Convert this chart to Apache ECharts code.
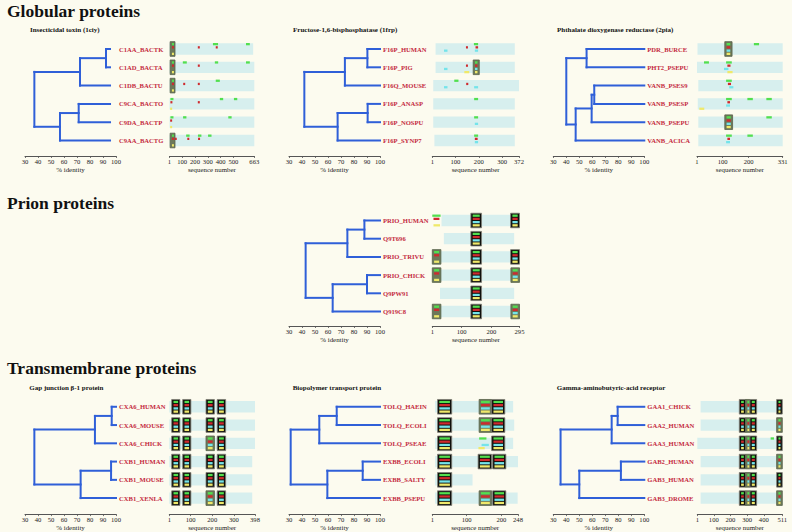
<!DOCTYPE html>
<html><head><meta charset="utf-8">
<script src="https://cdn.jsdelivr.net/npm/echarts@6/dist/echarts.min.js"></script>
<style>html,body{margin:0;padding:0;background:#fcfbef;}#c{width:792px;height:532px;}</style>
</head><body><div id="c"></div>
<script>
// ---------------- DATA ----------------
// node arrays: [identity %, childA, childB]; leaves are 0..5, new nodes numbered 6,7,...
const p1Title = 'Insecticidal toxin (1ciy)';
const p1Labels = ['C1AA_BACTK','C1AD_BACTA','C1DB_BACTU','C9CA_BACTO','C9DA_BACTP','C9AA_BACTG'];
const p1Tree = [[92.3,0,1],[72.3,6,2],[71.3,3,4],[56.9,8,5],[37.2,7,9]];
const p1LeafEnd = 95.4;
const p1Len = 663;
const p1Ticks = [1,100,200,300,400,500,663];
const p1Ranges = [[1,654],[1,663],[1,663],[1,663],[1,663],[1,663]];
const p1Boxes = [[6,44,0,0,'GRY'],[6,44,1,0,'GRY'],[6,44,2,0,'GRY'],[6,44,5,0,'GRY']];
const p1Marks = [
 [340,380,0,0],[222,236,0,1],[362,376,0,1],[598,628,0,0],
 [105,136,1,0],[222,236,1,1],[355,381,1,0],[598,628,1,0],
 [108,120,2,1],[222,236,2,1],[362,394,2,0],
 [8,32,3,0],[8,18,3,1],[6,20,3,3],[222,236,3,1],[394,420,3,0],[504,530,3,0],
 [8,32,4,0],[6,14,4,1],[6,18,4,3],[107,133,4,0],[460,486,4,0],
 [42,52,5,1],[131,158,5,0],[140,152,5,1],[223,250,5,0],[224,236,5,1],[302,329,5,0]
];

const p2Title = 'Fructose-1,6-bisphosphatase (1frp)';
const p2Labels = ['F16P_HUMAN','F16P_PIG','F16Q_MOUSE','F16P_ANASP','F16P_NOSPU','F16P_SYNP7'];
const p2Tree = [[90.3,0,1],[73,6,2],[90.5,3,4],[67.4,8,5],[41.8,7,9]];
const p2LeafEnd = 100;
const p2Len = 372;
const p2Ticks = [1,100,200,300,372];
const p2Ranges = [[15,354],[15,354],[5,372],[5,354],[5,354],[10,354]];
const p2Boxes = [[176,202,1,0,'GRCY']];
const p2Marks = [
 [51,66,0,2],[145,152,0,1],[179,197,0,0],[186,197,0,1],[183,197,0,2],
 [51,66,1,2],[145,152,1,1],[138,159,1,3],
 [95,113,2,0],[146,155,2,1],[51,66,2,2],[180,197,2,2],
 [180,197,3,0],
 [180,197,4,0],[183,197,4,2],
 [180,197,5,0],[183,195,5,1],[183,197,5,2]
];

const p3Title = 'Phthalate dioxygenase reductase (2pia)';
const p3Labels = ['PDR_BURCE','PHT2_PSEPU','VANB_PSES9','VANB_PSESP','VANB_PSEPU','VANB_ACICA'];
const p3Tree = [[55.6,0,1],[61.5,2,3],[59.5,7,4],[47.2,8,5],[40,6,9]];
const p3LeafEnd = 100;
const p3Len = 331;
const p3Ticks = [1,100,200,331];
const p3Ranges = [[3,331],[1,331],[6,331],[4,331],[6,331],[6,331]];
const p3Boxes = [[108,136,0,0,'GRCY'],[108,138,4,0,'GRCY']];
const p3Marks = [
 [220,240,0,0],
 [28,47,1,0],[113,135,1,0],[118,130,1,1],[105,122,1,2],[118,138,1,3],
 [113,135,2,0],[120,132,2,1],[125,141,2,2],
 [113,135,3,0],[195,216,3,0],[268,289,3,0],[118,128,3,1],[113,128,3,2],[10,29,3,3],
 [268,289,4,0],
 [113,135,5,0],[195,216,5,0],[118,128,5,1],[113,128,5,2]
];

const p4Title = '';
const p4Labels = ['PRIO_HUMAN','Q9T696','PRIO_TRIVU','PRIO_CHICK','Q9PW91','Q919C8'];
const p4Tree = [[88,0,1],[74.9,6,2],[90,3,4],[63.6,8,5],[42.8,7,9]];
const p4LeafEnd = 100;
const p4Len = 295;
const p4Ticks = [1,100,200,295];
const p4Ranges = [[32,280],[40,277],[1,294],[1,294],[27,277],[1,294]];
const p4Boxes = [
 [131,167,0,1,'GRCY'],[265,295,0,1,'GRCY'],
 [131,167,1,1,'GRCY'],
 [1,30,2,0,'GRY'],[131,167,2,1,'GRCY'],[265,295,2,1,'GRCY'],
 [1,30,3,0,'GRY'],[131,167,3,1,'GRCY'],[266,295,3,0,'GRCY'],
 [131,167,4,1,'GRCY'],
 [1,30,5,0,'GRY'],[131,167,5,1,'GRCY'],[266,295,5,0,'GRCY']
];
const p4Marks = [[1,29,0,0],[5,25,0,1],[5,27,0,3]];

const p5Title = 'Gap junction \u03b2-1 protein';
const p5Labels = ['CXA6_HUMAN','CXA6_MOUSE','CXA6_CHICK','CXB1_HUMAN','CXB1_MOUSE','CXB1_XENLA'];
const p5Tree = [[96.7,0,1],[83.8,6,2],[96.2,3,4],[72.8,8,5],[37.2,7,9]];
const p5LeafEnd = 100;
const p5Len = 398;
const p5Ticks = [1,100,200,300,398];
const p5Ranges = [[1,398],[1,398],[1,398],[1,385],[1,385],[1,385]];
const p5Boxes = [
 [12,50,0,1,'GRCY'],[63,101,0,1,'GRCY'],[171,210,0,1,'GRCY'],[223,262,0,1,'GRCY'],
 [12,50,1,1,'GRCY'],[63,101,1,1,'GRCY'],[171,210,1,1,'GRCY'],[223,262,1,1,'GRCY'],
 [12,50,2,1,'GRCY'],[63,101,2,1,'GRCY'],[171,210,2,0,'GRCY'],[223,262,2,1,'GRCY'],
 [12,50,3,1,'GRCY'],[63,101,3,1,'GRCY'],[171,210,3,1,'GRCY'],[223,262,3,1,'GRCY'],
 [12,50,4,1,'GRCY'],[63,101,4,1,'GRCY'],[171,210,4,1,'GRCY'],[223,262,4,1,'GRCY'],
 [12,50,5,1,'GRCY'],[63,101,5,1,'GRCY'],[171,210,5,0,'GRCY'],[223,262,5,1,'GRCY']
];
const p5Marks = [];

const p6Title = 'Biopolymer transport protein';
const p6Labels = ['TOLQ_HAEIN','TOLQ_ECOLI','TOLQ_PSEAE','EXBB_ECOLI','EXBB_SALTY','EXBB_PSEPU'];
const p6Tree = [[66.7,0,1],[53.3,6,2],[86.7,3,4],[59.5,8,5],[31.3,7,9]];
const p6LeafEnd = 100;
const p6Len = 248;
const p6Ticks = [1,100,200,248];
const p6Ranges = [[9,234],[9,237],[9,234],[9,248],[9,117],[9,247]];
const p6Boxes = [
 [16,57,0,1,'GRCY'],[136,172,0,0,'GRCY'],[172,210,0,1,'GRCY'],
 [16,57,1,1,'GRCY'],[136,172,1,0,'GRCY'],[172,210,1,1,'GRCY'],
 [16,57,2,1,'GRCY'],[172,210,2,1,'GRCY'],
 [16,57,3,1,'GRCY'],[133,172,3,1,'GRCY'],[175,213,3,1,'GRCY'],
 [16,57,4,1,'GRCY'],
 [16,57,5,1,'GRCY'],[136,172,5,0,'GRCY'],[175,213,5,1,'GRCY']
];
const p6Marks = [[136,157,2,0],[143,164,2,2],[134,152,2,3]];

const p7Title = 'Gamma-aminobutyric-acid receptor';
const p7Labels = ['GAA1_CHICK','GAA2_HUMAN','GAA3_HUMAN','GAB2_HUMAN','GAB3_HUMAN','GAB3_DROME'];
const p7Tree = [[79.5,0,1],[74.9,6,2],[82,3,4],[50,8,5],[35.6,7,9]];
const p7LeafEnd = 100;
const p7Len = 511;
const p7Ticks = [1,100,200,300,400,511];
const p7Ranges = [[21,511],[21,511],[1,511],[21,511],[21,511],[21,511]];
const p7Boxes = [
 [253,291,0,1,'GRCY'],[291,317,0,0,'GRCY'],[317,357,0,1,'GRCY'],[477,511,0,1,'GRCY'],
 [253,291,1,1,'GRCY'],[291,317,1,0,'GRCY'],[317,357,1,1,'GRCY'],[477,511,1,0,'GRCY'],
 [253,291,2,1,'GRCY'],[291,317,2,0,'GRCY'],[317,357,2,1,'GRCY'],[477,511,2,1,'GRCY'],
 [253,291,3,1,'GRCY'],[291,317,3,0,'GRCY'],[317,357,3,1,'GRCY'],[477,511,3,0,'GRCY'],
 [253,291,4,1,'GRCY'],[291,317,4,0,'GRCY'],[317,357,4,1,'GRCY'],[477,511,4,1,'GRCY'],
 [253,291,5,1,'GRCY'],[291,317,5,0,'GRCY'],[317,357,5,1,'GRCY'],[477,511,5,0,'GRCY']
];
const p7Marks = [[441,461,2,0]];

const sectionTitles = ['Globular proteins','Prion proteins','Transmembrane proteins'];

// ---------------- LAYOUT / STYLE ----------------
const SERIF = "'Liberation Serif','DejaVu Serif',serif";
const LANE_COLORS = ['#52df4f','#cf2a2e','#74e4ea','#efe96a'];
const LANE_OFF = [-0.265,-0.09,0.09,0.265];
const LANE_H = 0.125;

const G = {row0:49, sp:18.3, axisY:156};
const P = {row0:220.5, sp:18.2, axisY:326};
const T = {row0:406.8, sp:18.3, axisY:514.3};
const panels = [
 {title:p1Title,labels:p1Labels,tree:p1Tree,leafEnd:p1LeafEnd,len:p1Len,ticks:p1Ticks,ranges:p1Ranges,boxes:p1Boxes,marks:p1Marks,
  L:Object.assign({dl:25,dr:116,sl:169.5,sr:254.3,tx:30,ty:26.5},G)},
 {title:p2Title,labels:p2Labels,tree:p2Tree,leafEnd:p2LeafEnd,len:p2Len,ticks:p2Ticks,ranges:p2Ranges,boxes:p2Boxes,marks:p2Marks,
  L:Object.assign({dl:289,dr:380,sl:432.3,sr:519,tx:293,ty:26.5},G)},
 {title:p3Title,labels:p3Labels,tree:p3Tree,leafEnd:p3LeafEnd,len:p3Len,ticks:p3Ticks,ranges:p3Ranges,boxes:p3Boxes,marks:p3Marks,
  L:Object.assign({dl:553.3,dr:644.3,sl:697,sr:782.7,tx:557,ty:26.5},G)},
 {title:p4Title,labels:p4Labels,tree:p4Tree,leafEnd:p4LeafEnd,len:p4Len,ticks:p4Ticks,ranges:p4Ranges,boxes:p4Boxes,marks:p4Marks,
  L:Object.assign({dl:289,dr:380,sl:432.3,sr:519.5,tx:0,ty:0},P)},
 {title:p5Title,labels:p5Labels,tree:p5Tree,leafEnd:p5LeafEnd,len:p5Len,ticks:p5Ticks,ranges:p5Ranges,boxes:p5Boxes,marks:p5Marks,
  L:Object.assign({dl:25,dr:116,sl:169.3,sr:255,tx:29.3,ty:384},T)},
 {title:p6Title,labels:p6Labels,tree:p6Tree,leafEnd:p6LeafEnd,len:p6Len,ticks:p6Ticks,ranges:p6Ranges,boxes:p6Boxes,marks:p6Marks,
  L:Object.assign({dl:289,dr:380,sl:432.3,sr:518,tx:292.7,ty:384},T)},
 {title:p7Title,labels:p7Labels,tree:p7Tree,leafEnd:p7LeafEnd,len:p7Len,ticks:p7Ticks,ranges:p7Ranges,boxes:p7Boxes,marks:p7Marks,
  L:Object.assign({dl:553.3,dr:644.3,sl:697.3,sr:782.3,tx:556.7,ty:384},T)}
];
const sectionPos = [[7,1.5],[7,194],[7,358.5]];

// ---------------- BUILD ----------------
function treeSegments(tree, leafEnd){
  const nx=[], ny=[];
  for(let i=0;i<6;i++){nx.push(leafEnd); ny.push(i);}
  const segs=[];
  tree.forEach(function(n){
    const x=n[0], a=n[1], b=n[2];
    segs.push([x,ny[a],x,ny[b]]);
    segs.push([x,ny[a],nx[a],ny[a]]);
    segs.push([x,ny[b],nx[b],ny[b]]);
    nx.push(x); ny.push((ny[a]+ny[b])/2);
  });
  return segs;
}
function segRender(params, api){
  const a=api.coord([api.value(0),api.value(1)]), b=api.coord([api.value(2),api.value(3)]);
  return {type:'line', shape:{x1:a[0],y1:a[1],x2:b[0],y2:b[1]},
    style:{stroke:'#2f5fd8',lineWidth:2,lineCap:'square'}};
}
function labelRender(labels){
  return function(params, api){
    const p=api.coord([api.value(0),api.value(1)]);
    return {type:'text', x:p[0]+3, y:p[1], style:{text:labels[params.dataIndex], fill:'#c42a3e',
      fontFamily:SERIF, fontSize:6.6, fontWeight:'bold', align:'left', verticalAlign:'middle'}};
  };
}
function barRender(params, api){
  const a=api.coord([api.value(0),api.value(2)]), b=api.coord([api.value(1),api.value(2)]);
  const h=api.size([0,1])[1]*0.62;
  return {type:'rect', shape:{x:a[0],y:a[1]-h/2,width:b[0]-a[0],height:h}, style:{fill:'#d7efee'}};
}
function laneRect(x0,x1,yc,sp,lane){
  const h=sp*LANE_H, w=Math.max(x1-x0,2);
  return {type:'rect', shape:{x:x0,y:yc+sp*LANE_OFF[lane]-h/2,width:w,height:h}, style:{fill:LANE_COLORS[lane]}};
}
function markRender(params, api){
  const a=api.coord([api.value(0),api.value(2)]), b=api.coord([api.value(1),api.value(2)]);
  return laneRect(a[0],b[0],a[1],api.size([0,1])[1],api.value(3));
}
function boxRender(boxes){
  return function(params, api){
    const bx=boxes[params.dataIndex];
    const a=api.coord([bx[0],bx[2]]), b=api.coord([bx[1],bx[2]]);
    const sp=api.size([0,1])[1], hh=sp*0.4;
    const dark=bx[3]===1;
    const ch=[{type:'rect', shape:{x:a[0],y:a[1]-hh,width:b[0]-a[0],height:2*hh},
      style:{fill:dark?'#0f100c':'#6c7859', stroke:dark?'#808076':'#58634a', lineWidth:0.8}}];
    for(const c of bx[4]){ ch.push(laneRect(a[0]+1.8,b[0]-1.8,a[1],sp,'GRCY'.indexOf(c))); }
    return {type:'group', children:ch};
  };
}
const axisLine = {show:true,onZero:false,lineStyle:{color:'#555',width:1}};
const axisTick = {show:true,length:2,lineStyle:{color:'#555',width:0.8}};
const lblStyle = {fontFamily:SERIF,fontSize:6.6,color:'#222',margin:2};
const nameStyle = {fontFamily:SERIF,fontSize:6.9,color:'#222'};

const grid=[], xAxis=[], yAxis=[], series=[], title=[];
sectionTitles.forEach(function(t,i){
  title.push({text:t,left:sectionPos[i][0],top:sectionPos[i][1],padding:0,
    textStyle:{fontFamily:SERIF,fontWeight:'bold',fontSize:17.5,color:'#111'}});
});
panels.forEach(function(p,i){
  const L=p.L, top=L.row0-L.sp/2, h=L.sp*6, off=L.axisY-(top+h);
  if(p.title) title.push({text:p.title,left:L.tx,top:L.ty,padding:0,
    textStyle:{fontFamily:SERIF,fontWeight:'bold',fontSize:7,color:'#111'}});
  const gd=2*i, gs=2*i+1;
  grid.push({left:L.dl,top:top,width:L.dr-L.dl,height:h});
  grid.push({left:L.sl,top:top,width:L.sr-L.sl,height:h});
  xAxis.push({type:'value',gridIndex:gd,min:30,max:100,interval:10,position:'bottom',offset:off,
    axisLine:axisLine,axisTick:axisTick,splitLine:{show:false},axisLabel:lblStyle,
    name:'% identity',nameLocation:'middle',nameGap:8.5,nameTextStyle:nameStyle});
  xAxis.push({type:'value',gridIndex:gs,min:1,max:p.len,position:'bottom',offset:off,
    axisLine:axisLine,axisTick:Object.assign({customValues:p.ticks},axisTick),splitLine:{show:false},
    axisLabel:Object.assign({customValues:p.ticks,showMinLabel:true,showMaxLabel:true},lblStyle),
    name:'sequence number',nameLocation:'middle',nameGap:8.5,nameTextStyle:nameStyle});
  yAxis.push({type:'value',gridIndex:gd,min:-0.5,max:5.5,inverse:true,show:false});
  yAxis.push({type:'value',gridIndex:gs,min:-0.5,max:5.5,inverse:true,show:false});
  series.push({type:'custom',xAxisIndex:gd,yAxisIndex:gd,clip:false,silent:true,
    data:treeSegments(p.tree,p.leafEnd),encode:{x:[0,2],y:[1,3]},renderItem:segRender});
  series.push({type:'custom',xAxisIndex:gd,yAxisIndex:gd,clip:false,silent:true,
    data:p.labels.map(function(s,k){return [100,k];}),encode:{x:0,y:1},renderItem:labelRender(p.labels)});
  series.push({type:'custom',xAxisIndex:gs,yAxisIndex:gs,clip:false,silent:true,
    data:p.ranges.map(function(r,k){return [r[0],r[1],k];}),encode:{x:[0,1],y:2},renderItem:barRender});
  series.push({type:'custom',xAxisIndex:gs,yAxisIndex:gs,clip:false,silent:true,
    data:p.boxes.map(function(b){return [b[0],b[1],b[2],b[3]];}),encode:{x:[0,1],y:2},renderItem:boxRender(p.boxes)});
  series.push({type:'custom',xAxisIndex:gs,yAxisIndex:gs,clip:false,silent:true,
    data:p.marks,encode:{x:[0,1],y:2},renderItem:markRender});
});

const chart = echarts.init(document.getElementById('c'), null, {renderer:'svg'});
chart.setOption({backgroundColor:'#fcfbef',animation:false,title:title,grid:grid,xAxis:xAxis,yAxis:yAxis,series:series,tooltip:{show:false}});
</script></body></html>
